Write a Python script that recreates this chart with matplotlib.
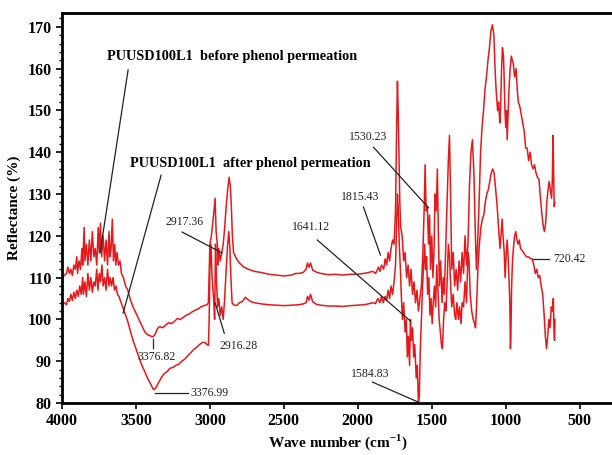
import numpy as np
import matplotlib.pyplot as plt
from matplotlib.ticker import MultipleLocator, AutoMinorLocator

# PUUSD100L1 before phenol permeation
before_wn = [4000, 3985, 3970, 3960, 3950, 3940, 3930, 3920, 3910, 3900, 3895, 3885, 3875, 3865, 3860,
             3850, 3845, 3835, 3825, 3815, 3805, 3795, 3785, 3775, 3765, 3755, 3748, 3740, 3732, 3722,
             3712, 3702, 3692, 3682, 3675, 3668, 3660, 3652, 3644, 3636, 3628, 3618, 3608, 3598, 3585,
             3570, 3555, 3540, 3520, 3500, 3480, 3460, 3440, 3420, 3400, 3385, 3370, 3355, 3340, 3320,
             3300, 3280, 3260, 3240, 3220, 3200, 3180, 3160, 3140, 3120, 3100, 3080, 3060, 3040, 3020,
             3010, 3000, 2990, 2975, 2965, 2958, 2950, 2945, 2940, 2930, 2920, 2910, 2900, 2890, 2880,
             2870, 2862, 2855, 2848, 2840, 2820, 2800, 2770, 2740, 2700, 2650, 2600, 2550, 2500, 2450,
             2420, 2400, 2370, 2350, 2340, 2330, 2320, 2305, 2280, 2250, 2200, 2150, 2100, 2050, 2000,
             1960, 1930, 1900, 1880, 1860, 1850, 1840, 1825, 1815, 1805, 1795, 1785, 1775, 1765, 1755,
             1745, 1738, 1732, 1727, 1722, 1716, 1710, 1700, 1690, 1680, 1670, 1660, 1650, 1640, 1630,
             1620, 1610, 1600, 1590, 1580, 1570, 1560, 1550, 1545, 1538, 1530, 1522, 1515, 1508, 1500,
             1492, 1485, 1478, 1470, 1462, 1455, 1448, 1440, 1430, 1422, 1415, 1405, 1395, 1388, 1380,
             1372, 1365, 1355, 1345, 1335, 1325, 1315, 1305, 1295, 1285, 1275, 1265, 1255, 1245, 1235,
             1225, 1215, 1205, 1198, 1190, 1180, 1170, 1160, 1150, 1140, 1130, 1120, 1110, 1100, 1090,
             1080, 1072, 1065, 1055, 1048, 1040, 1035, 1028, 1022, 1015, 1010, 1005, 1000, 995, 990,
             985, 978, 970, 962, 955, 948, 940, 930, 922, 915, 905, 895, 885, 875, 865,
             855, 845, 835, 825, 815, 805, 795, 785, 775, 765, 755, 745, 738, 730, 722,
             714, 706, 698, 690, 685, 680, 676, 672, 668]
before_r = [110, 110.5, 111, 112.5, 111, 112, 110.5, 113, 112, 115, 111, 114, 112, 117, 113,
            122, 114, 118, 113, 119, 114, 121, 115, 117, 113, 122, 116, 123, 115, 120,
            114, 119, 113, 121, 115, 117, 124, 114, 118, 113, 116, 113, 114, 111, 110,
            108, 107, 105, 103, 101.5, 100, 98.5, 97, 96.3, 96, 95.8, 96.5, 97.8, 98.3, 98,
            98.6, 99.2, 99, 99.5, 100.2, 100, 100.5, 101, 101.3, 101.8, 102.2, 102.5, 103, 103.3, 103.5,
            104, 118, 120, 125, 129, 121, 118, 113, 117, 114, 116, 118, 122, 127, 131,
            134, 132, 127, 120, 116, 114.5, 113.5, 112.5, 112, 111.5, 111.2, 110.8, 110.6, 110.4, 110.6,
            111, 111, 111.2, 112, 113.5, 112.5, 113.5, 111.8, 111.3, 111, 110.7, 110.8, 110.6, 110.8, 110.8,
            111, 111.2, 111.5, 111, 112.5, 111.5, 113, 112, 114.5, 113, 116, 114, 117, 119, 118,
            126, 145, 157, 150, 140, 128, 122, 120, 114, 116, 110, 113, 108, 112, 106,
            109, 104, 107, 102, 105, 108, 116, 128, 137, 126, 127, 118, 125, 112, 120,
            110, 116, 130, 126, 136, 120, 108, 114, 104, 110, 106, 118, 130, 138, 144,
            128, 112, 116, 108, 112, 107, 114, 109, 116, 111, 120, 113, 118, 132, 140,
            143, 135, 120, 112, 118, 128, 140, 146, 150, 155, 158, 162, 165, 169, 170.5,
            168, 160, 155, 150, 152, 147, 150, 160, 165, 163, 157, 150, 146, 150, 143,
            148, 155, 160, 163, 162, 161, 158, 160, 155, 152, 151, 149, 147, 145, 141,
            141, 138, 140, 137, 136, 137, 135, 134, 133.5, 129, 125, 122, 121, 123, 128,
            131, 133, 131, 129, 133, 144, 135, 127, 128]

# PUUSD100L1 after phenol permeation
after_wn = [4000, 3985, 3970, 3960, 3950, 3940, 3930, 3920, 3910, 3900, 3890, 3880, 3870, 3860, 3855,
            3845, 3835, 3825, 3815, 3805, 3795, 3785, 3775, 3765, 3757, 3748, 3740, 3730, 3722, 3712,
            3702, 3692, 3682, 3675, 3665, 3655, 3645, 3635, 3625, 3615, 3600, 3585, 3570, 3555, 3540,
            3520, 3500, 3480, 3460, 3440, 3420, 3400, 3385, 3375, 3360, 3345, 3330, 3310, 3290, 3270,
            3250, 3230, 3210, 3190, 3170, 3150, 3130, 3110, 3090, 3070, 3050, 3035, 3020, 3010, 3005,
            3000, 2993, 2985, 2975, 2968, 2962, 2955, 2948, 2940, 2930, 2920, 2910, 2900, 2890, 2880,
            2872, 2865, 2858, 2850, 2840, 2820, 2800, 2780, 2760, 2745, 2720, 2700, 2650, 2600, 2550,
            2500, 2450, 2400, 2370, 2350, 2340, 2330, 2320, 2305, 2280, 2250, 2200, 2150, 2100, 2050,
            2000, 1960, 1930, 1900, 1880, 1865, 1850, 1840, 1828, 1815, 1805, 1795, 1785, 1775, 1765,
            1755, 1745, 1738, 1732, 1726, 1720, 1712, 1705, 1698, 1690, 1680, 1672, 1665, 1658, 1650,
            1644, 1638, 1630, 1622, 1615, 1605, 1598, 1590, 1584, 1578, 1570, 1562, 1555, 1548, 1542,
            1535, 1528, 1520, 1512, 1505, 1497, 1490, 1482, 1474, 1466, 1458, 1450, 1442, 1435, 1428,
            1420, 1412, 1404, 1395, 1388, 1380, 1372, 1365, 1355, 1345, 1338, 1330, 1320, 1312, 1302,
            1295, 1285, 1275, 1265, 1255, 1248, 1240, 1230, 1220, 1210, 1204, 1196, 1188, 1178, 1168,
            1158, 1148, 1138, 1128, 1118, 1108, 1098, 1088, 1078, 1070, 1060, 1052, 1045, 1038, 1030,
            1024, 1018, 1010, 1004, 996, 990, 984, 978, 972, 968, 965, 960, 954, 948, 940,
            932, 924, 916, 908, 900, 890, 880, 870, 860, 850, 840, 830, 820, 810, 800,
            790, 780, 770, 760, 750, 740, 732, 724, 716, 708, 700, 692, 684, 678, 674,
            670, 667]
after_r = [103.5, 104, 103.5, 105, 104.3, 106, 104.5, 106.5, 105, 107, 105.5, 108, 106, 110, 106,
           109, 105.5, 111, 107, 110, 106.5, 109, 108, 112, 107, 111, 109, 113, 108, 110,
           107, 112, 108, 110, 108, 110, 107, 108, 106, 105.5, 104, 102.5, 101, 99.5, 97.5,
           95, 93, 91, 89, 87.5, 85.8, 84.5, 83.4, 83.2, 84, 85, 86, 87, 87.5, 88.3,
           88.5, 89, 89.3, 90, 90.5, 91.3, 92, 92.8, 93.3, 94, 94.5, 94.5, 94, 93.8, 100,
           112, 118, 110, 105, 100, 118, 109, 103, 105, 101, 103, 100, 105, 112, 118,
           121, 117, 110, 104, 103.5, 103.3, 104, 104.3, 105.3, 104.8, 104.2, 104, 103.7, 103.5, 103.4,
           103.3, 103.4, 103.5, 103.7, 104, 105.5, 104.6, 106, 104.2, 103.6, 103.4, 103.2, 103.2, 103.1, 103.3,
           103.4, 103.5, 103.7, 104, 103.8, 105, 104, 105.5, 104, 105.5, 104.5, 107, 105, 108, 106,
           109, 113, 122, 130, 126, 118, 112, 105, 100, 104, 97, 100, 91, 96, 89,
           100, 95, 98, 91, 94, 86, 89, 80, 82, 92, 100, 108, 113, 118, 112,
           115, 106, 110, 101, 105, 99, 104, 108, 103, 113, 107, 100, 97, 94, 93,
           100, 104, 102, 110, 118, 115, 108, 103, 106, 101, 100, 104, 100, 103, 99,
           104, 103, 109, 104, 116, 114, 106, 102, 100, 99, 98, 104, 112, 118, 122,
           124, 125, 128, 130, 131, 133, 135, 136, 135, 132, 128, 124, 120, 117, 121,
           124, 120, 116, 110, 116, 119, 115, 110, 104, 93, 96, 108, 114, 117, 120,
           121, 119, 118, 119, 117, 116.5, 116, 115.5, 115, 115, 114.8, 114.5, 114.5, 113, 111,
           112, 110, 110.5, 108, 106, 101, 96, 93, 96, 100, 98, 103, 102, 105, 98,
           95, 100]

serif = 'Liberation Serif'
red = '#e3191c'
plt.rcParams['mathtext.fontset'] = 'custom'
plt.rcParams['mathtext.rm'] = 'Liberation Serif:bold'

fig = plt.figure(figsize=(6.12, 4.55), dpi=100)
ax = fig.add_axes([0.1013, 0.1143, 0.9, 0.857])

ax.plot(before_wn, before_r, color=red, lw=1.1)
ax.plot(after_wn, after_r, color=red, lw=1.1)

ax.set_xlim(4000, 276)
ax.set_ylim(80, 173.3)
ax.xaxis.set_major_locator(MultipleLocator(500))
ax.yaxis.set_major_locator(MultipleLocator(10))
ax.yaxis.set_minor_locator(AutoMinorLocator(5))
ax.tick_params(direction='out', length=4, width=1.2, labelsize=11.5)
ax.tick_params(which='minor', direction='out', length=2.5, width=1)
for lab in ax.get_xticklabels() + ax.get_yticklabels():
    lab.set_fontfamily(serif)
    lab.set_fontweight('bold')

ax.spines['right'].set_visible(False)
for s in ['top', 'bottom', 'left']:
    ax.spines[s].set_linewidth(2)

ax.set_xlabel('Wave number (cm$^{-1}$)', fontsize=11, fontweight='bold', family=serif, labelpad=2)
ax.set_ylabel('Reflectance (%)', fontsize=11, fontweight='bold', family=serif, labelpad=5)

# series labels with leader lines
ax.text(3695, 162.8, 'PUUSD100L1  before phenol permeation', fontsize=10.3, fontweight='bold',
        family=serif, va='center', ha='left')
ax.plot([3553, 3743], [159.7, 115.9], color='#222222', lw=0.9)
ax.text(3540, 137.4, 'PUUSD100L1  after phenol permeation', fontsize=10.3, fontweight='bold',
        family=serif, va='center', ha='left')
ax.plot([3330, 3587], [134.5, 101.5], color='#222222', lw=0.9)

# peak labels
peaks = [
    ('2917.36', (3174, 123.3), [(3188, 120.9), (2917, 115.9)], 'center'),
    ('2916.28', (2808, 93.6), [(2903, 96.7), (2964, 103.9)], 'center'),
    ('3376.82', (3364, 91.0), [(3384, 95.3), (3384, 93.2)], 'center'),
    ('3376.99', (3133, 82.3), [(3370, 82.5), (3147, 82.5)], 'left'),
    ('1641.12', (2314, 122.1), [(2274, 119.0), (1644, 99.6)], 'center'),
    ('1815.43', (1982, 129.3), [(1962, 126.9), (1847, 115.4)], 'center'),
    ('1530.23', (1928, 143.6), [(1894, 141.2), (1522, 126.7)], 'center'),
    ('1584.83', (1915, 86.9), [(1901, 85.0), (1590, 80.2)], 'center'),
    ('720.42', (676, 114.4), [(818, 114.4), (710, 114.4)], 'left'),
]
for txt, (tx, ty), seg, ha in peaks:
    ax.text(tx, ty, txt, fontsize=8.5, family=serif, ha=ha, va='center', color='#222222')
    ax.plot([seg[0][0], seg[1][0]], [seg[0][1], seg[1][1]], color='#222222', lw=0.9)

fig.savefig('out.png', dpi=100)
